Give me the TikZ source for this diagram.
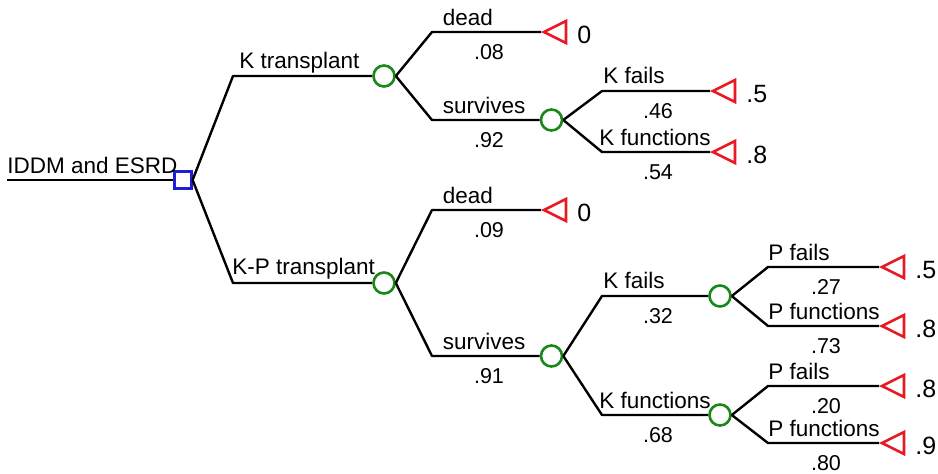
\documentclass[tikz,border=0pt]{standalone}
\usepackage{fontspec}
\setmainfont{Liberation Sans}
\usetikzlibrary{shapes.geometric}
\definecolor{dgreen}{RGB}{25,135,25}
\definecolor{dred}{RGB}{232,25,35}
\definecolor{dblue}{RGB}{30,30,210}
\begin{document}
\begin{tikzpicture}[x=0.5pt,y=-0.5pt,
  decision/.style={draw=dblue, rectangle, minimum size=8.5pt, inner sep=0pt, line width=1.1pt},
  chance/.style={draw=dgreen, circle, minimum size=10.5pt, inner sep=0pt, line width=1.3pt},
  terminal/.style={draw=dred, isosceles triangle, isosceles triangle apex angle=53,
    shape border rotate=180, minimum height=11pt, minimum width=11pt, inner sep=0pt, anchor=apex, line width=1.3pt},
  branch/.style={draw=black, line width=1.2pt, line join=round},
  brlabel/.style={anchor=base west, inner sep=0pt, font=\fontsize{11.25}{13}\selectfont},
  prob/.style={anchor=base, inner sep=0pt, font=\fontsize{10.75}{12}\selectfont},
  payoff/.style={anchor=base west, inner sep=0pt, font=\fontsize{12.5}{14}\selectfont}]
\useasboundingbox (0,0) rectangle (938,473);

% root
\coordinate (r0) at (7,180);
\node[decision] (d) at (183,180) {};
\draw[branch] (r0) -- (d.west);
\node[brlabel] (nroot) at (7,173) {IDDM and ESRD};

% chance nodes
\node[chance] (c1) at (384,76) {};
\node[chance] (c2) at (384,283) {};
\node[chance] (c3) at (551.5,120) {};
\node[chance] (c4) at (551.5,356) {};
\node[chance] (c5) at (720,296) {};
\node[chance] (c6) at (720,415) {};

% terminal nodes
\node[terminal] (t1) at (541,32) {};
\node[terminal] (t2) at (710,91) {};
\node[terminal] (t3) at (710,152) {};
\node[terminal] (t4) at (541,210) {};
\node[terminal] (t5) at (879,267) {};
\node[terminal] (t6) at (879,326) {};
\node[terminal] (t7) at (879,386) {};
\node[terminal] (t8) at (879,443) {};

% branch corners
\coordinate (b1) at (233,76);
\coordinate (b2) at (233,283);
\coordinate (b3) at (432,32);
\coordinate (b4) at (432,120);
\coordinate (b5) at (602,91);
\coordinate (b6) at (602,152);
\coordinate (b7) at (432,210);
\coordinate (b8) at (432,356);
\coordinate (b9) at (602,296);
\coordinate (b10) at (602,415);
\coordinate (b11) at (768,267);
\coordinate (b12) at (768,326);
\coordinate (b13) at (768,386);
\coordinate (b14) at (768,443);

% connectors
\draw[branch] (d.east) -- (b1) -- (c1.west);
\draw[branch] (d.east) -- (b2) -- (c2.west);
\draw[branch] (c1.east) -- (b3) -- (t1.apex);
\draw[branch] (c1.east) -- (b4) -- (c3.west);
\draw[branch] (c3.east) -- (b5) -- (t2.apex);
\draw[branch] (c3.east) -- (b6) -- (t3.apex);
\draw[branch] (c2.east) -- (b7) -- (t4.apex);
\draw[branch] (c2.east) -- (b8) -- (c4.west);
\draw[branch] (c4.east) -- (b9) -- (c5.west);
\draw[branch] (c4.east) -- (b10) -- (c6.west);
\draw[branch] (c5.east) -- (b11) -- (t5.apex);
\draw[branch] (c5.east) -- (b12) -- (t6.apex);
\draw[branch] (c6.east) -- (b13) -- (t7.apex);
\draw[branch] (c6.east) -- (b14) -- (t8.apex);

% branch names
\node[brlabel] (n1) at (239,68) {K transplant};
\node[brlabel] (n2) at (232,274) {K-P transplant};
\node[brlabel] (n3) at (442.5,25) {dead};
\node[brlabel] (n4) at (442.5,113) {survives};
\node[brlabel] (n5) at (603,83) {K fails};
\node[brlabel] (n6) at (599,145) {K functions};
\node[brlabel] (n7) at (442.5,203) {dead};
\node[brlabel] (n8) at (442.5,349) {survives};
\node[brlabel] (n9) at (603,288) {K fails};
\node[brlabel] (n10) at (599,408) {K functions};
\node[brlabel] (n11) at (768,260) {P fails};
\node[brlabel] (n12) at (768,319) {P functions};
\node[brlabel] (n13) at (768,379) {P fails};
\node[brlabel] (n14) at (768,436) {P functions};

% probabilities
\node[prob] (p3) at (489,59) {.08};
\node[prob] (p4) at (489,147) {.92};
\node[prob] (p5) at (658,118) {.46};
\node[prob] (p6) at (658,179) {.54};
\node[prob] (p7) at (489,237) {.09};
\node[prob] (p8) at (489,383) {.91};
\node[prob] (p9) at (658,323) {.32};
\node[prob] (p10) at (658,442) {.68};
\node[prob] (p11) at (826,294) {.27};
\node[prob] (p12) at (826,353) {.73};
\node[prob] (p13) at (826,413) {.20};
\node[prob] (p14) at (826,470) {.80};

% payoffs
\node[payoff] (v1) at (577,43) {0};
\node[payoff] (v2) at (746,102) {.5};
\node[payoff] (v3) at (746,163) {.8};
\node[payoff] (v4) at (577,221) {0};
\node[payoff] (v5) at (915,278) {.5};
\node[payoff] (v6) at (915,337) {.8};
\node[payoff] (v7) at (915,397) {.8};
\node[payoff] (v8) at (915,454) {.9};
\end{tikzpicture}
\end{document}
